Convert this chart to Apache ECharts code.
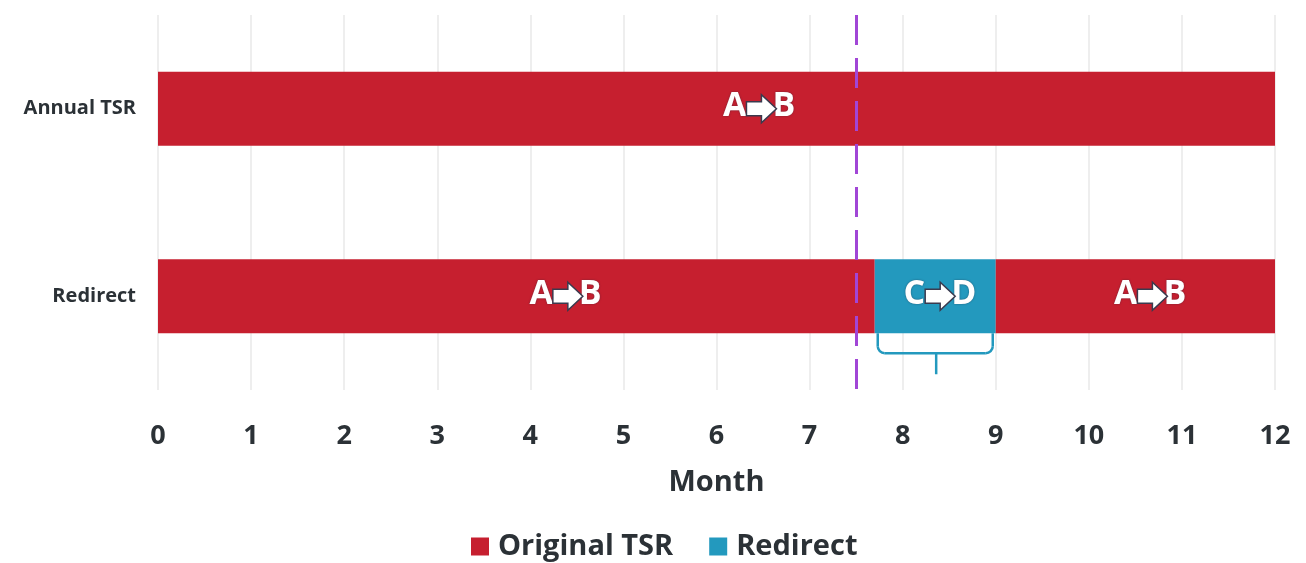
<!DOCTYPE html>
<html><head><meta charset="utf-8">
<script src="https://cdn.jsdelivr.net/npm/echarts@6/dist/echarts.min.js"></script>
<style>html,body{margin:0;padding:0;background:#fff}#c{width:1306px;height:563px}</style>
</head><body><div id="c"></div>
<script>
const categories = ['Annual TSR', 'Redirect'];
const monthTicks = [0,1,2,3,4,5,6,7,8,9,10,11,12];
// stacked segments (duration in months)
const originalBefore = [12, 7.7];
const redirectSpan = ['-', 1.3];
const originalAfter = ['-', 3.3];
// label positions [month, category, from, to]
const segmentLabels = [
  [6.44, 'Annual TSR', 'A', 'B'],
  [4.36, 'Redirect', 'A', 'B'],
  [8.36, 'Redirect', 'C', 'D'],
  [10.64, 'Redirect', 'A', 'B']
];
// brace under the redirect segment [start, end, category, tip]
const braceData = [[7.7, 9, 'Redirect', 8.36]];
const policyChange = 7.5;

const RED = '#C61F2F', BLUE = '#2399BE', TXT = '#2b3136';
const FONT = '"Open Sans", "Noto Sans", sans-serif';

const chart = echarts.init(document.getElementById('c'));
chart.setOption({
  animation: false,
  grid: { left: 158, right: 31, top: 15, bottom: 173 },
  legend: {
    data: ['Original TSR', 'Redirect'],
    top: 527, left: 466,
    itemWidth: 18, itemHeight: 18, itemGap: 36,
    icon: 'rect',
    textStyle: { fontFamily: FONT, fontWeight: 'bold', fontSize: 29, color: TXT, padding: [0,0,0,4] }
  },
  xAxis: {
    type: 'value', min: 0, max: 12, interval: 1,
    name: 'Month', nameLocation: 'middle', nameGap: 78,
    nameTextStyle: { fontFamily: FONT, fontWeight: 'bold', fontSize: 29, color: TXT },
    axisLine: { show: false }, axisTick: { show: false },
    axisLabel: { margin: 33, fontFamily: FONT, fontWeight: 'bold', fontSize: 27, color: TXT,
      formatter: v => monthTicks.includes(v) ? String(v) : '' },
    splitLine: { show: true, lineStyle: { color: '#e8e8e8', width: 1.5 } }
  },
  yAxis: {
    type: 'category', data: categories, inverse: true,
    axisLine: { show: false }, axisTick: { show: false },
    axisLabel: { margin: 22, fontFamily: FONT, fontWeight: 'bold', fontSize: 20, color: TXT }
  },
  series: [
    { name: 'Original TSR', type: 'bar', stack: 't', data: originalBefore, barWidth: 74,
      itemStyle: { color: RED },
      markLine: { silent: true, symbol: 'none', label: { show: false },
        lineStyle: { color: '#A146D6', width: 3, type: [30, 13] },
        data: [{ xAxis: policyChange }] } },
    { name: 'Redirect', type: 'bar', stack: 't', data: redirectSpan, barWidth: 74,
      itemStyle: { color: BLUE } },
    { name: 'Original TSR', type: 'bar', stack: 't', data: originalAfter, barWidth: 74,
      itemStyle: { color: RED } },
    { type: 'custom', silent: true, z: 10, data: segmentLabels.map(d => [d[0], d[1]]),
      renderItem: (params, api) => {
        const c = api.coord([api.value(0), api.value(1)]);
        const cx = c[0], cy = c[1];
        const lab = segmentLabels[params.dataIndex];
        const font = 'bold 34px "Open Sans", sans-serif';
        const tshadow = { textShadowColor: 'rgba(40,40,60,0.6)', textShadowBlur: 2 };
        return { type: 'group', children: [
          { type: 'text', style: Object.assign({ text: lab[2], x: cx - 11, y: cy - 2, fill: '#fff', font: font, align: 'right', verticalAlign: 'middle' }, tshadow) },
          { type: 'text', style: Object.assign({ text: lab[3], x: cx + 15, y: cy - 2, fill: '#fff', font: font, align: 'left', verticalAlign: 'middle' }, tshadow) },
          { type: 'polygon', shape: { points: [[cx - 11, cy - 7], [cx + 4, cy - 7], [cx + 4, cy - 14], [cx + 19, cy], [cx + 4, cy + 14], [cx + 4, cy + 7], [cx - 11, cy + 7]] },
            style: { fill: '#fff', stroke: '#3a3a4e', lineWidth: 1.5, lineJoin: 'miter' } }
        ] };
      } },
    { type: 'custom', silent: true, z: 5, data: braceData,
      renderItem: (params, api) => {
        const p0 = api.coord([api.value(0), api.value(2)]);
        const p1 = api.coord([api.value(1), api.value(2)]);
        const pm = api.coord([api.value(3), api.value(2)]);
        const xl = p0[0] + 3, xr = p1[0] - 3, yb = p0[1] + 37, yh = p0[1] + 57, r = 7;
        const st = { stroke: BLUE, lineWidth: 2.5, fill: null };
        return { type: 'group', children: [
          { type: 'line', shape: { x1: xl, y1: yb, x2: xl, y2: yh - r }, style: st },
          { type: 'arc', shape: { cx: xl + r, cy: yh - r, r: r, startAngle: Math.PI / 2, endAngle: Math.PI, clockwise: true }, style: st },
          { type: 'line', shape: { x1: xl + r, y1: yh, x2: xr - r, y2: yh }, style: st },
          { type: 'arc', shape: { cx: xr - r, cy: yh - r, r: r, startAngle: 0, endAngle: Math.PI / 2, clockwise: true }, style: st },
          { type: 'line', shape: { x1: xr, y1: yh - r, x2: xr, y2: yb }, style: st },
          { type: 'line', shape: { x1: pm[0], y1: yh, x2: pm[0], y2: yh + 21 }, style: st }
        ] };
      } }
  ]
});
</script></body></html>
